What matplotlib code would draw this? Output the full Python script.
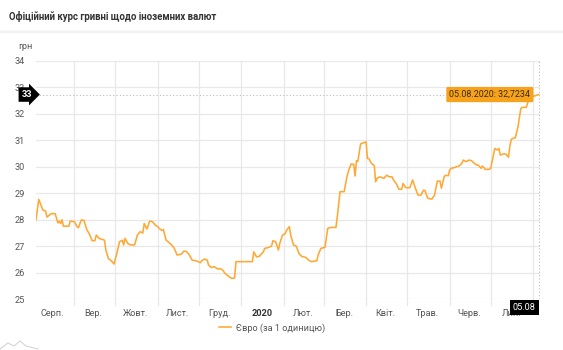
import matplotlib
matplotlib.use("Agg")
import matplotlib.pyplot as plt
import matplotlib.dates as mdates
import pandas as pd

plt.rcParams['font.family'] = ['Roboto', 'DejaVu Sans']

dates = [
    "2019-08-04", "2019-08-06", "2019-08-09", "2019-08-11", "2019-08-12", "2019-08-15", "2019-08-18",
    "2019-08-20", "2019-08-21", "2019-08-22", "2019-08-23", "2019-08-24", "2019-08-28", "2019-08-29",
    "2019-09-01", "2019-09-03", "2019-09-04", "2019-09-06", "2019-09-08", "2019-09-10", "2019-09-12",
    "2019-09-14", "2019-09-16", "2019-09-17", "2019-09-19", "2019-09-23", "2019-09-24", "2019-09-26",
    "2019-09-28", "2019-09-30", "2019-10-02", "2019-10-04", "2019-10-06", "2019-10-07", "2019-10-08",
    "2019-10-10", "2019-10-12", "2019-10-15", "2019-10-17", "2019-10-19", "2019-10-21", "2019-10-22",
    "2019-10-24", "2019-10-26", "2019-10-28", "2019-10-30", "2019-11-01", "2019-11-02", "2019-11-04",
    "2019-11-05", "2019-11-07", "2019-11-10", "2019-11-11", "2019-11-13", "2019-11-15", "2019-11-18",
    "2019-11-20", "2019-11-22", "2019-11-24", "2019-11-26", "2019-11-29", "2019-12-02", "2019-12-03",
    "2019-12-05", "2019-12-07", "2019-12-08", "2019-12-10", "2019-12-12", "2019-12-15", "2019-12-16",
    "2019-12-18", "2019-12-20", "2019-12-23", "2019-12-25", "2019-12-27", "2019-12-28", "2019-12-31",
    "2020-01-09", "2020-01-10", "2020-01-12", "2020-01-14", "2020-01-17", "2020-01-18", "2020-01-21",
    "2020-01-23", "2020-01-24", "2020-01-26", "2020-01-28", "2020-01-29", "2020-01-31", "2020-02-02",
    "2020-02-03", "2020-02-05", "2020-02-06", "2020-02-08", "2020-02-10", "2020-02-12", "2020-02-13",
    "2020-02-14", "2020-02-17", "2020-02-19", "2020-02-21", "2020-02-25", "2020-02-26", "2020-02-28",
    "2020-03-02", "2020-03-04", "2020-03-06", "2020-03-10", "2020-03-11", "2020-03-13", "2020-03-16",
    "2020-03-18", "2020-03-19", "2020-03-21", "2020-03-23", "2020-03-24", "2020-03-25", "2020-03-26",
    "2020-03-28", "2020-03-30", "2020-04-01", "2020-04-02", "2020-04-03", "2020-04-05", "2020-04-07",
    "2020-04-08", "2020-04-09", "2020-04-11", "2020-04-14", "2020-04-16", "2020-04-18", "2020-04-20",
    "2020-04-21", "2020-04-23", "2020-04-25", "2020-04-27", "2020-04-28", "2020-04-30", "2020-05-03",
    "2020-05-05", "2020-05-07", "2020-05-09", "2020-05-11", "2020-05-13", "2020-05-14", "2020-05-16",
    "2020-05-19", "2020-05-21", "2020-05-23", "2020-05-25", "2020-05-26", "2020-05-28", "2020-05-29",
    "2020-05-31", "2020-06-01", "2020-06-02", "2020-06-04", "2020-06-06", "2020-06-08", "2020-06-10",
    "2020-06-11", "2020-06-13", "2020-06-15", "2020-06-17", "2020-06-19", "2020-06-21", "2020-06-22",
    "2020-06-24", "2020-06-25", "2020-06-27", "2020-06-30", "2020-07-01", "2020-07-03", "2020-07-04",
    "2020-07-06", "2020-07-07", "2020-07-08", "2020-07-10", "2020-07-12", "2020-07-14", "2020-07-15",
    "2020-07-16", "2020-07-18", "2020-07-19", "2020-07-21", "2020-07-23", "2020-07-24", "2020-07-27",
    "2020-07-28", "2020-07-29", "2020-08-01", "2020-08-05",
]
eur = [
    28.00, 28.77, 28.37, 28.33, 28.10, 28.23, 28.23,
    27.88, 27.95, 27.86, 28.00, 27.76, 27.76, 27.95,
    27.93, 27.74, 27.70, 27.99, 27.98, 27.64, 27.46,
    27.21, 27.21, 27.42, 27.30, 27.23, 26.85, 26.53,
    26.45, 26.33, 26.73, 27.17, 27.23, 27.05, 27.30,
    27.11, 27.05, 27.05, 27.42, 27.55, 27.50, 27.86,
    27.65, 27.95, 27.93, 27.80, 27.74, 27.67, 27.60,
    27.63, 27.23, 27.10, 27.05, 26.92, 26.67, 26.70,
    26.82, 26.80, 26.67, 26.48, 26.45, 26.38, 26.45,
    26.52, 26.48, 26.29, 26.20, 26.23, 26.14, 26.16,
    26.12, 25.98, 25.85, 25.79, 25.80, 26.42, 26.42,
    26.42, 26.79, 26.60, 26.62, 26.79, 26.92, 26.96,
    27.01, 27.21, 27.17, 26.86, 27.11, 27.42, 27.48,
    27.61, 27.74, 27.42, 27.05, 27.01, 26.73, 26.67,
    26.62, 26.58, 26.48, 26.42, 26.45, 26.67, 26.92,
    26.96, 27.67, 27.71, 27.71, 28.11, 29.06, 29.06,
    29.62, 29.81, 30.10, 30.09, 29.65, 30.23, 30.20,
    30.86, 30.90, 30.94, 30.31, 30.31, 30.12, 30.05,
    29.43, 29.56, 29.62, 29.56, 29.68, 29.62, 29.62,
    29.50, 29.37, 29.15, 29.15, 29.37, 29.21, 29.21,
    29.50, 29.19, 28.93, 28.93, 29.12, 29.10, 28.81,
    28.78, 28.93, 29.46, 29.46, 29.19, 29.62, 29.68,
    29.66, 29.87, 29.94, 29.96, 30.00, 30.03, 30.13,
    30.25, 30.19, 30.25, 30.23, 30.13, 30.06, 30.06,
    29.94, 30.03, 29.90, 29.90, 29.94, 30.44, 30.69,
    30.63, 30.69, 30.44, 30.48, 30.48, 30.36, 30.78,
    31.03, 31.09, 31.09, 31.53, 32.20, 32.24, 32.24,
    32.41, 32.60, 32.65, 32.7234,
]

month_labels = ["Серп.", "Вер.", "Жовт.", "Лист.", "Груд.", "2020", "Лют.",
                "Бер.", "Квіт.", "Трав.", "Черв.", "Лип."]
month_label_dates = ["2019-08-16", "2019-09-15", "2019-10-16", "2019-11-15", "2019-12-16",
                     "2020-01-16", "2020-02-15", "2020-03-16", "2020-04-15", "2020-05-16",
                     "2020-06-15", "2020-07-16"]
month_starts = ["2019-09-01", "2019-10-01", "2019-11-01", "2019-12-01", "2020-01-01",
                "2020-02-01", "2020-03-01", "2020-04-01", "2020-05-01", "2020-06-01",
                "2020-07-01", "2020-08-01"]
yticks = [25, 26, 27, 28, 29, 30, 31, 32, 33, 34]
series_name = "Євро (за 1 одиницю)"
title = "Офіційний курс гривні щодо іноземних валют"

ORANGE = "#FFA834"
x = pd.to_datetime(dates)
xn = mdates.date2num(x)

fig = plt.figure(figsize=(5.63, 3.5), dpi=100)
fig.patch.set_facecolor("white")

# Title and header separator
fig.text(9 / 563, 1 - 16 / 350, title, fontsize=6.9, fontweight="bold", color="#333333",
         va="center", ha="left")
fig.add_artist(plt.Line2D([0, 1], [1 - 30.5 / 350, 1 - 30.5 / 350], color="#e2e2e2", lw=1.0))
fig.add_artist(plt.Line2D([0, 1], [1 - 32 / 350, 1 - 32 / 350], color="#f3f3f3", lw=1.6))

# small decorative icon bottom-left
fig.add_artist(plt.Line2D([0 / 563, 8 / 563, 14 / 563, 20 / 563, 26 / 563, 38 / 563],
                          [1 - 349 / 350, 1 - 343 / 350, 1 - 346 / 350, 1 - 341 / 350,
                           1 - 346 / 350, 1 - 349 / 350], color="#d5d5d5", lw=0.8))

ax = fig.add_axes([36 / 563, 1 - 299.3 / 350, (540 - 36) / 563, (299.3 - 60.7) / 350])
ax.plot(xn, eur, color=ORANGE, lw=1.15, zorder=3, label=series_name)
ax.set_xlim(xn[0], xn[-1] + 1)
ax.set_ylim(25, 34)

for s in ax.spines.values():
    s.set_visible(False)
ax.set_yticks(yticks)
ax.set_yticklabels([str(v) for v in yticks])
ax.yaxis.grid(True, color="#e8e8e8", lw=0.9)
ms = mdates.date2num(pd.to_datetime(month_starts))
for m in ms:
    if m < xn[-1]:
        ax.axvline(m, color="#e8e8e8", lw=0.9, zorder=0, ymin=-0.025, clip_on=False)
ax.tick_params(axis="both", length=0, labelsize=6.6, labelcolor="#555555")
ax.tick_params(axis="y", pad=8)
ax.set_xticks(mdates.date2num(pd.to_datetime(month_label_dates)))
ax.set_xticklabels(month_labels)
ax.tick_params(axis="x", pad=7)
for lbl in ax.get_xticklabels():
    if lbl.get_text() == "2020":
        lbl.set_fontweight("bold")
        lbl.set_color("#333333")

ax.text(-0.035, 1.06, "грн", transform=ax.transAxes, fontsize=6.6, color="#555555",
        ha="left", va="center")

# crosshair
last_x, last_y = xn[-1], eur[-1]
ax.axhline(last_y, color="#bbbbbb", lw=0.8, ls=(0, (1, 2)), zorder=2)
ax.axvline(last_x, color="#bbbbbb", lw=0.8, ls=(0, (1, 2)), zorder=2)

# tooltip
ax.annotate("05.08.2020: 32,7234", xy=(last_x, last_y), xytext=(-6, 0),
            textcoords="offset points", ha="right", va="center", fontsize=6.4,
            color="#3a2a10", zorder=6,
            bbox=dict(boxstyle="round,pad=0.35,rounding_size=0.15", fc="#F7A21B", ec="none"))

# left y marker
ax.annotate("33", xy=(0, last_y), xycoords=("axes fraction", "data"), xytext=(-3, 0),
            textcoords="offset points", ha="right", va="center", fontsize=6.6,
            color="white", fontweight="bold", zorder=6, annotation_clip=False,
            bbox=dict(boxstyle="rarrow,pad=0.3", fc="black", ec="none"))

# bottom x marker
ax.annotate("05.08", xy=(last_x, 0), xycoords=("data", "axes fraction"), xytext=(-2, -6),
            textcoords="offset points", ha="right", va="center", fontsize=6.6,
            color="white", zorder=6, annotation_clip=False,
            bbox=dict(boxstyle="square,pad=0.35", fc="black", ec="none"))

leg = fig.legend(loc="center", bbox_to_anchor=(272 / 563, 1 - 328 / 350), frameon=False,
                 fontsize=6.6, handlelength=1.3, handletextpad=0.5)
for t in leg.get_texts():
    t.set_color("#555555")

fig.savefig("out.png", dpi=100, facecolor="white")
